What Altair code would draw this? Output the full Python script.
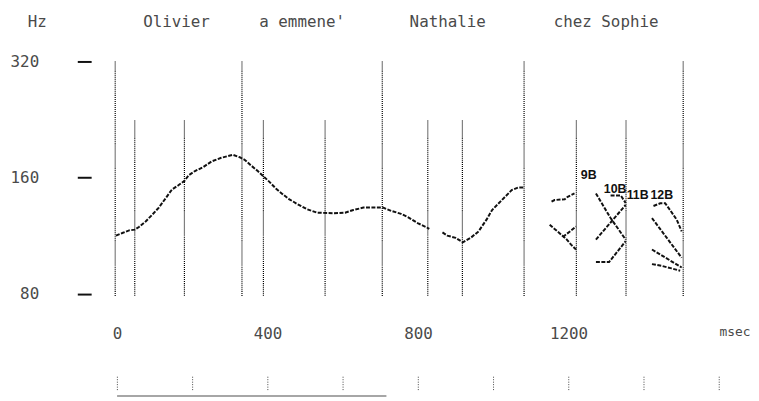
import altair as alt
import pandas as pd

# ---------------- data ----------------
# segment boundary lines (ms) and their top (Hz)
boundary_ms = [-5, 47, 179, 332, 389, 553, 705, 826, 918, 1082, 1221, 1353, 1505]
boundary_top = [320, 225, 225, 320, 225, 225, 320, 225, 225, 320, 225, 225, 320]
boundary_bottom = 79

# pitch contour, main voiced stretch
seg1_ms = [-3, 14, 32, 47, 58, 76, 93, 111, 128, 146, 163, 179, 190, 207, 229, 251,
           277, 308, 326, 339, 356, 374, 389, 405, 422, 440, 457, 479, 505, 532,
           576, 606, 628, 655, 707, 729, 755, 773, 799, 821, 830]
seg1_hz = [113.3, 115.1, 116.9, 117.4, 119.3, 123.3, 128.2, 133.9, 141.1, 149.2, 153.0,
           157.0, 162.3, 166.5, 170.5, 176.3, 180.2, 183.4, 180.8, 178.1, 172.2, 166.5,
           161.4, 156.1, 150.1, 145.1, 140.9, 136.8, 132.6, 129.9, 129.5, 129.9, 132.0,
           133.9, 133.9, 131.3, 129.0, 126.5, 122.1, 119.3, 117.9]
# "Nathalie" second stretch
seg2_ms = [865, 878, 900, 919, 940, 961, 983, 997, 1023, 1049, 1067, 1082]
seg2_hz = [115.5, 113.3, 111.8, 108.9, 111.8, 116.2, 125.0, 132.0, 140.1, 148.6, 151.0, 151.0]

# "chez Sophie" candidate tracks
t9a_ms = [1155, 1163, 1190, 1198, 1216]
t9a_hz = [138.7, 140.1, 140.7, 142.8, 145.7]
t9b_ms = [1150, 1163, 1181, 1194, 1207, 1220]
t9b_hz = [120.9, 117.9, 113.9, 111.1, 107.4, 104.3]
t9c_ms = [1185, 1203, 1220]
t9c_hz = [112.4, 116.0, 119.6]
t10a_ms = [1273, 1312, 1352]
t10a_hz = [145.7, 125.8, 110.7]
t10b_ms = [1273, 1352]
t10b_hz = [110.7, 136.0]
t10c_ms = [1273, 1308, 1352]
t10c_hz = [96.8, 96.8, 109.6]
t10d_ms = [1312, 1339, 1352]
t10d_hz = [144.0, 144.0, 137.7]
t12a_ms = [1426, 1444, 1457, 1470, 1488, 1501]
t12a_hz = [135.2, 137.4, 137.4, 132.0, 124.5, 116.2]
t12b_ms = [1422, 1501]
t12b_hz = [125.8, 99.3]
t12c_ms = [1422, 1501]
t12c_hz = [104.3, 93.7]
t12d_ms = [1422, 1448, 1474, 1497]
t12d_hz = [95.6, 94.6, 93.2, 91.9]

tag_text = ["9B", "10B", "11B", "12B"]
tag_ms = [1254, 1324, 1384, 1448]
tag_hz = [162.3, 149.5, 144.4, 144.4]

words = ["Olivier", "a emmene'", "Nathalie", "chez Sophie"]
words_ms = [158, 492, 879, 1300]

y_ticks = [80, 160, 320]
x_ticks = [0, 200, 400, 600, 800, 1000, 1200, 1400, 1600]
baseline_ms = [0, 716]

# ---------------- tables ----------------
bounds = pd.DataFrame({"ms": boundary_ms, "hz": boundary_top,
                       "bottom": [boundary_bottom] * len(boundary_ms)})

tracks = {
    "s1": (seg1_ms, seg1_hz), "s2": (seg2_ms, seg2_hz),
    "9a": (t9a_ms, t9a_hz), "9b": (t9b_ms, t9b_hz), "9c": (t9c_ms, t9c_hz),
    "10a": (t10a_ms, t10a_hz), "10b": (t10b_ms, t10b_hz),
    "10c": (t10c_ms, t10c_hz), "10d": (t10d_ms, t10d_hz),
    "12a": (t12a_ms, t12a_hz), "12b": (t12b_ms, t12b_hz),
    "12c": (t12c_ms, t12c_hz), "12d": (t12d_ms, t12d_hz),
}
rows = []
for name, (ms, hz) in tracks.items():
    for i, (a, b) in enumerate(zip(ms, hz)):
        rows.append({"track": name, "ms": a, "hz": b, "i": i})
contour = pd.DataFrame(rows)

tags = pd.DataFrame({"t": tag_text, "ms": tag_ms, "hz": tag_hz})
wdf = pd.DataFrame({"w": words, "ms": words_ms})
base = pd.DataFrame({"ms": [baseline_ms[0]], "ms2": [baseline_ms[1]]})

MONO = "DejaVu Sans Mono"
TXT = "#4a4a4a"

xscale = alt.Scale(domain=[-40, 1680], nice=False, zero=False)
yscale = alt.Scale(type="log", base=2, domain=[74.5, 343.5], nice=False)

xaxis = alt.Axis(
    values=x_ticks, domain=False, grid=False, title=None,
    tickSize=14, tickDash=[1, 1.5], tickColor="#444", tickWidth=1,
    offset=71, labelPadding=-65, labelFont=MONO,
    labelFontSize={"condition": {"test": "datum.value == 1600", "value": 13}, "value": 16},
    labelColor=TXT, labelFlush=False, labelOverlap=False, labelBound=False,
    labelExpr="datum.value == 1600 ? 'msec' : (datum.value % 400 == 0 ? datum.label : '')",
    labelAlign={"condition": {"test": "datum.value == 1600", "value": "left"}, "value": "center"},
    format="d",
)
yaxis = alt.Axis(
    values=y_ticks, domain=False, grid=False,
    tickSize=14, tickWidth=2, tickColor="#111", offset=11,
    labelPadding=39, labelFont=MONO, labelFontSize=16, labelColor=TXT,
    labelBaseline="middle", format="d",
    title="Hz", titleAngle=0, titleX=-55, titleY=-28, titleAlign="center",
    titleBaseline="middle", titleFont=MONO, titleFontSize=16,
    titleFontWeight="normal", titleColor=TXT,
)

X = alt.X("ms:Q", scale=xscale, axis=xaxis)
Y = alt.Y("hz:Q", scale=yscale, axis=yaxis)

lines = alt.Chart(bounds).mark_rule(color="#000", strokeWidth=1.2, strokeDash=[1, 1]).encode(
    x=X, y=Y, y2="bottom:Q",
)

pitch = alt.Chart(contour).mark_line(color="#111", strokeWidth=2, strokeDash=[4, 1.5]).encode(
    x=X, y=Y, detail="track:N", order="i:Q",
)

tag_marks = alt.Chart(tags).mark_text(
    font="Liberation Sans", fontSize=12.5, fontWeight="bold", color="#111", baseline="middle",
).encode(x=X, y=Y, text="t:N")

word_marks = alt.Chart(wdf).mark_text(
    font=MONO, fontSize=16, color=TXT, baseline="middle",
).encode(x=X, y=alt.value(-28), text="w:N")

baseline = alt.Chart(base).mark_rule(color="#888", strokeWidth=1.5).encode(
    x=X, x2="ms2:Q", y=alt.value(350),
)

chart = alt.layer(lines, pitch, tag_marks, word_marks, baseline).properties(
    width=653.6, height=259,
    padding={"left": 95, "top": 40, "right": 2, "bottom": 93},
    autosize="none",
).configure(background="white").configure_view(stroke=None)

chart.save("out.html", embed_options={"renderer": "svg", "actions": False})
